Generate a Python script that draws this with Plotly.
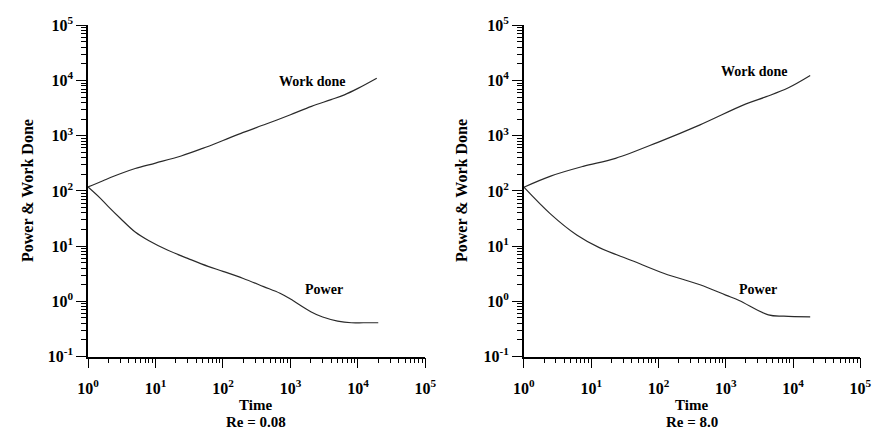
import plotly.graph_objects as go

# ---- data ----
# Re = 0.08 panel
t_work_a = [1, 1.7, 3, 5, 10, 24, 50, 100, 200, 436, 1000, 2050, 4000, 6300, 10000, 19000]
work_a = [118, 155, 205, 255, 320, 430, 590, 820, 1150, 1630, 2400, 3400, 4500, 5500, 7200, 11000]
t_pow_a = [1, 1.5, 2, 3, 5, 8, 15, 30, 60, 100, 200, 400, 700, 1000, 2000, 3000, 5000, 8000, 12000, 20000]
pow_a = [118, 75, 52, 32, 18, 12.5, 8.5, 6.0, 4.3, 3.5, 2.6, 1.85, 1.4, 1.1, 0.65, 0.52, 0.44, 0.41, 0.41, 0.41]

# Re = 8.0 panel
t_work_b = [1, 2.5, 7.6, 23, 98, 415, 1960, 4000, 8400, 18000]
work_b = [117, 186, 279, 390, 760, 1575, 3740, 5100, 7300, 12300]
t_pow_b = [1, 2.5, 6.1, 13.2, 40, 122, 415, 1000, 1580, 4300, 7300, 18000]
pow_b = [117, 38, 15.9, 9.4, 5.5, 3.2, 2.0, 1.3, 1.04, 0.57, 0.54, 0.525]

x_exps = [0, 1, 2, 3, 4, 5]
y_exps = [-1, 0, 1, 2, 3, 4, 5]
x_tickvals = [10 ** e for e in x_exps]
x_ticktext = ["<b>10<sup>%d</sup></b>" % e for e in x_exps]
y_tickvals = [10.0 ** e for e in y_exps]
y_ticktext = ["<b>10<sup>%d</sup></b>" % e for e in y_exps]
x_minor = [m * 10.0 ** e for e in x_exps[:-1] for m in range(2, 10)]
y_minor = [m * 10.0 ** e for e in y_exps[:-1] for m in range(2, 10)]

FONT = "Liberation Serif, Times New Roman, serif"
LINE = dict(color="#2a2a2a", width=1.2)

fig = go.Figure()
fig.add_trace(go.Scatter(x=t_work_a, y=work_a, mode="lines", line=LINE, line_shape="spline", xaxis="x", yaxis="y", showlegend=False))
fig.add_trace(go.Scatter(x=t_pow_a, y=pow_a, mode="lines", line=LINE, line_shape="spline", xaxis="x", yaxis="y", showlegend=False))
fig.add_trace(go.Scatter(x=t_work_b, y=work_b, mode="lines", line=LINE, line_shape="spline", xaxis="x2", yaxis="y2", showlegend=False))
fig.add_trace(go.Scatter(x=t_pow_b, y=pow_b, mode="lines", line=LINE, line_shape="spline", xaxis="x2", yaxis="y2", showlegend=False))

W, H = 883, 441

def xax(domain, anchor):
    return dict(type="log", range=[0, 5], domain=domain, anchor=anchor,
                showgrid=False, zeroline=False, showline=True, linecolor="black", linewidth=1.5,
                ticks="outside", ticklen=10, tickwidth=1.4, tickcolor="black",
                tickmode="array", tickvals=x_tickvals, ticktext=x_ticktext, ticklabelstandoff=6,
                minor=dict(ticks="outside", ticklen=5, tickwidth=1.1, tickcolor="black",
                           showgrid=False, tickmode="array", tickvals=x_minor),
                tickfont=dict(family=FONT, size=16, color="black"))

def yax(domain, anchor):
    return dict(type="log", range=[-1, 5], domain=domain, anchor=anchor,
                showgrid=False, zeroline=False, showline=True, linecolor="black", linewidth=1.5,
                ticks="outside", ticklen=10, tickwidth=1.4, tickcolor="black",
                tickmode="array", tickvals=y_tickvals, ticktext=y_ticktext,
                minor=dict(ticks="outside", ticklen=5, tickwidth=1.1, tickcolor="black",
                           showgrid=False, tickmode="array", tickvals=y_minor),
                tickfont=dict(family=FONT, size=16, color="black"))

ydom = [1 - 362 / H, 1 - 15 / H]
fig.update_layout(
    width=W, height=H,
    margin=dict(l=0, r=0, t=0, b=0),
    paper_bgcolor="white", plot_bgcolor="white",
    xaxis=xax([79 / W, 425 / W], "y"),
    yaxis=yax(ydom, "x"),
    xaxis2=xax([526 / W, 871 / W], "y2"),
    yaxis2=yax(ydom, "x2"),
)

def ann(text, px, py, size=14, angle=0):
    fig.add_annotation(text="<b>%s</b>" % text, x=px / W, y=1 - py / H, xref="paper", yref="paper",
                       showarrow=False, textangle=angle, xanchor="center", yanchor="middle",
                       font=dict(family=FONT, size=size, color="black"))

ann("Work done", 309, 74, 14)
ann("Power", 321, 292, 14)
ann("Work done", 762, 63, 14)
ann("Power", 766, 292, 14)
ann("Power &amp; Work Done", 17, 188, 16, -90)
ann("Power &amp; Work Done", 462, 188, 16, -90)
ann("Time", 251, 413, 15)
ann("Re = 0.08", 251, 431, 15)
ann("Time", 698, 413, 15)
ann("Re = 8.0", 698, 431, 15)

fig.write_html("out.html")
